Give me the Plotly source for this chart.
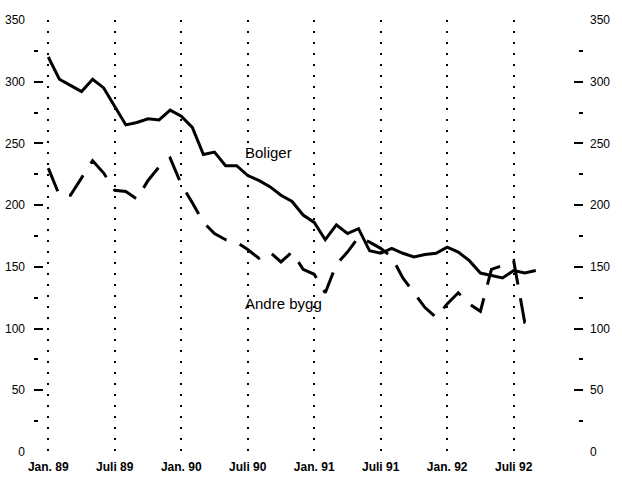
import plotly.graph_objects as go

# month index 0 = Jan. 89
months = list(range(45))

boliger = [320, 302, 297, 292, 302, 295, 280, 265, 267, 270, 269, 277,
           272, 263, 241, 243, 232, 232, 224, 220, 215, 208, 203, 192,
           186, 172, 184, 177, 181, 163, 161, 165, 161, 158, 160, 161,
           166, 162, 155, 145, 143, 141, 147, 145, 147]

andre_bygg = [230, 208, 208, 222, 236, 226, 212, 211, 205, 220, 231, 238,
              217, 202, 186, 177, 172, 170, 164, 157, 162, 154, 162, 148,
              144, 129, 152, 162, 174, 170, 165, 158, 141, 129, 117, 109,
              120, 129, 120, 114, 148, 151, 155, 105, 104]

x_tickvals = [0, 6, 12, 18, 24, 30, 36, 42]
x_ticktext = ["Jan. 89", "Juli 89", "Jan. 90", "Juli 90",
              "Jan. 91", "Juli 91", "Jan. 92", "Juli 92"]
y_labels = [0, 50, 100, 150, 200, 250, 300, 350]
y_major_ticks = [50, 100, 150, 200, 250, 300]
y_minor_ticks = [25, 75, 125, 175, 225, 275, 325]

FONT = "Liberation Sans, Arial, sans-serif"

fig = go.Figure()
fig.add_trace(go.Scatter(x=months, y=boliger, mode="lines",
                         line=dict(color="black", width=3), name="Boliger"))
fig.add_trace(go.Scatter(x=months, y=andre_bygg, mode="lines",
                         line=dict(color="black", width=3, dash="25px,14px"),
                         name="Andre bygg"))

# transparent copies so the extra overlay axes (right labels, tick marks) get drawn
for ax in ["y2", "y3", "y4"]:
    fig.add_trace(go.Scatter(x=months, y=boliger, yaxis=ax, mode="lines",
                             line=dict(color="rgba(0,0,0,0)", width=1),
                             hoverinfo="skip", showlegend=False))

fig.add_annotation(x=17.6, y=243, text="Boliger", showarrow=False,
                   xanchor="left", yanchor="middle",
                   font=dict(family=FONT, size=15, color="black"))
fig.add_annotation(x=17.6, y=120, text="Andre bygg", showarrow=False,
                   xanchor="left", yanchor="middle",
                   font=dict(family=FONT, size=15, color="black"))

label_axis = dict(range=[0, 350], tickvals=y_labels, ticks="",
                  showgrid=False, zeroline=False, showline=False,
                  automargin=False,
                  tickfont=dict(family=FONT, size=12, color="black"))
tick_axis = dict(range=[0, 350], tickvals=y_major_ticks, ticks="inside",
                 ticklen=9, tickwidth=2, tickcolor="black",
                 showticklabels=False, showgrid=False, zeroline=False,
                 showline=False, automargin=False,
                 minor=dict(tickmode="array", tickvals=y_minor_ticks,
                            ticks="inside", ticklen=4, tickwidth=2,
                            tickcolor="black", showgrid=False))

fig.update_layout(
    width=622, height=484,
    margin=dict(l=34, r=39, t=20, b=32),
    paper_bgcolor="white", plot_bgcolor="white",
    showlegend=False,
    xaxis=dict(range=[-1.29, 48.26], tickvals=x_tickvals, ticktext=x_ticktext,
               ticks="", showline=False, zeroline=False, automargin=False,
               showgrid=True, gridcolor="black", gridwidth=2,
               griddash="2px,9px",
               tickfont=dict(family=FONT, size=12, color="black", weight="bold"),
               ticklabelstandoff=6),
    yaxis=dict(label_axis, side="left", ticklabelstandoff=8),
    yaxis2=dict(label_axis, side="right", overlaying="y", ticklabelstandoff=6),
    yaxis3=dict(tick_axis, side="left", overlaying="y"),
    yaxis4=dict(tick_axis, side="right", overlaying="y"),
)

# drop the default 8px body margin so the figure fills the window
fig.write_html("out.html", config={"displayModeBar": False},
               post_script="document.body.style.margin = '0';")
